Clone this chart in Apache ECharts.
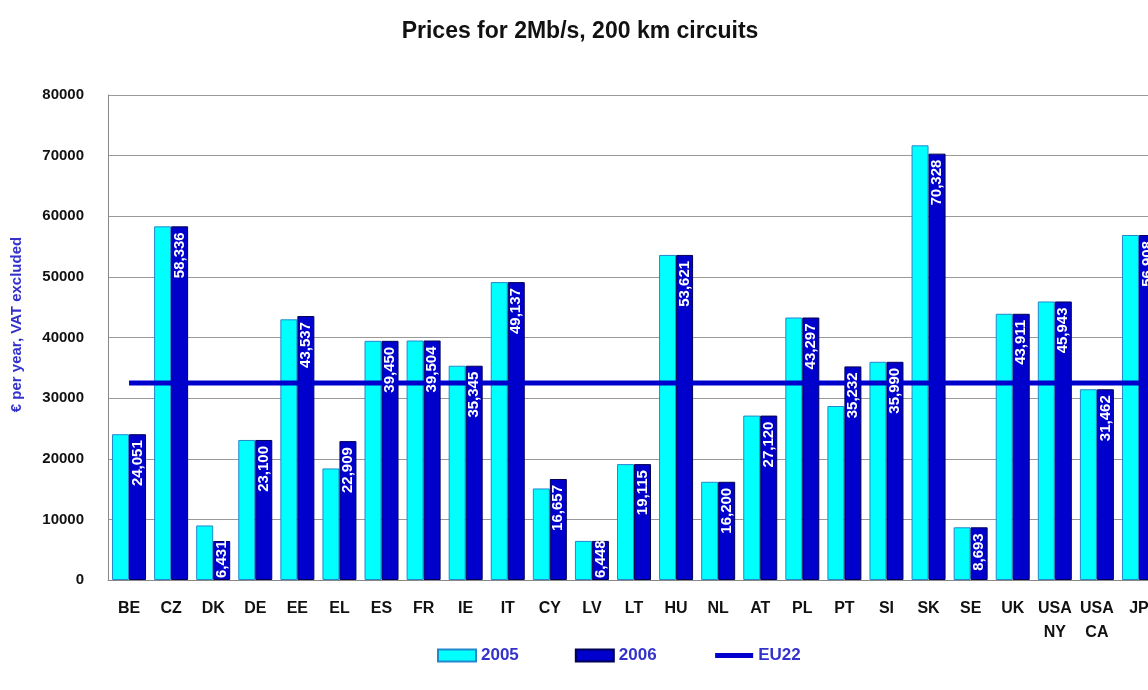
<!DOCTYPE html>
<html>
<head>
<meta charset="utf-8">
<style>
  html, body { margin: 0; padding: 0; background: #fff; overflow: hidden; }
  #chart { width: 1160px; height: 690px; }
</style>
<script src="https://cdn.jsdelivr.net/npm/echarts@6/dist/echarts.min.js"></script>
</head>
<body>
<div id="chart"></div>
<script>
// categories and values
var categories = ['BE', 'CZ', 'DK', 'DE', 'EE', 'EL', 'ES', 'FR', 'IE', 'IT', 'CY', 'LV', 'LT', 'HU',
    'NL', 'AT', 'PL', 'PT', 'SI', 'SK', 'SE', 'UK', 'USA\nNY', 'USA\nCA', 'JP'];
var v2005 = [24051, 58336, 9000, 23100, 43000, 18400, 39450, 39504, 35345, 49137, 15100, 6448, 19115, 53621,
    16200, 27120, 43297, 28700, 35990, 71700, 8693, 43911, 45943, 31462, 56908];
var v2006 = [24051, 58336, 6431, 23100, 43537, 22909, 39450, 39504, 35345, 49137, 16657, 6448, 19115, 53621,
    16200, 27120, 43297, 35232, 35990, 70328, 8693, 43911, 45943, 31462, 56908];
var eu22 = 32500;
var yTicks = { min: 0, max: 80000, interval: 10000 };

var font = 'Liberation Sans, Arial, sans-serif';
var myChart = echarts.init(document.getElementById('chart'));

// labels of 2006 bars: short bars get their label from the bottom
function labelFor(v) {
    if (v < 8000) {
        return { position: 'insideBottom', align: 'left', distance: 2 };
    }
    return {};
}

var catAxis = {
    type: 'category',
    data: categories,
    axisLine: { lineStyle: { color: '#888' } },
    axisTick: { show: false },
    axisLabel: {
        interval: 0,
        margin: 17,
        lineHeight: 24,
        fontFamily: font, fontSize: 16, fontWeight: 'bold', color: '#111'
    }
};

var option = {
    animation: false,
    title: {
        text: 'Prices for 2Mb/s, 200 km circuits',
        left: 'center',
        top: 15,
        textStyle: { fontFamily: font, fontSize: 23, fontWeight: 'bold', color: '#111' }
    },
    legend: {
        left: 437,
        top: 647,
        padding: 0,
        itemGap: 56,
        itemWidth: 38,
        itemHeight: 12,
        textStyle: { fontFamily: font, fontSize: 17, fontWeight: 'bold', color: '#3333cc' },
        data: [
            { name: '2005', icon: 'rect' },
            { name: '2006', icon: 'rect' },
            { name: 'EU22', itemStyle: { opacity: 0 }, lineStyle: { width: 5 } }
        ]
    },
    grid: { left: 108, right: 0, top: 95, bottom: 110 },
    xAxis: [
        catAxis,
        { type: 'category', data: categories, show: false }
    ],
    yAxis: {
        type: 'value',
        min: yTicks.min,
        max: yTicks.max,
        interval: yTicks.interval,
        name: '€ per year, VAT excluded',
        nameLocation: 'middle',
        nameGap: 84,
        nameTextStyle: { fontFamily: font, fontSize: 15, fontWeight: 'bold', color: '#3333cc', padding: [0, 0, 0, 26] },
        axisLine: { show: true, lineStyle: { color: '#888' } },
        axisTick: { show: false },
        splitLine: { lineStyle: { color: '#999', width: 1 } },
        axisLabel: {
            margin: 24, fontFamily: font, fontSize: 15, fontWeight: 'bold', color: '#111',
            formatter: function (v) { return String(v); }
        }
    },
    series: [
        {
            name: '2005',
            type: 'bar',
            barWidth: 17,
            barGap: '0%',
            data: v2005,
            itemStyle: { color: '#00ffff', borderColor: '#2288cc', borderWidth: 1 }
        },
        {
            name: '2006',
            type: 'bar',
            barWidth: 17,
            data: v2006,
            itemStyle: { color: '#0000cc', borderColor: '#000055', borderWidth: 1 }
        },
        {
            name: 'EU22',
            type: 'line',
            data: categories.map(function () { return eu22; }),
            symbol: 'none',
            z: 5,
            lineStyle: { color: '#0000cc', width: 5 },
            itemStyle: { color: '#0000cc' }
        },
        // transparent copies on a hidden axis, only to put the 2006 labels above the EU22 line
        {
            name: 'ghost2005',
            type: 'bar',
            xAxisIndex: 1,
            barWidth: 17,
            barGap: '0%',
            z: 8,
            silent: true,
            data: v2005,
            itemStyle: { color: 'rgba(0,0,0,0)' }
        },
        {
            name: 'label2006',
            type: 'bar',
            xAxisIndex: 1,
            barWidth: 17,
            z: 8,
            silent: true,
            data: v2006.map(function (v) { return { value: v, label: labelFor(v) }; }),
            itemStyle: { color: 'rgba(0,0,0,0)' },
            label: {
                show: true,
                position: 'insideTop',
                rotate: 90,
                align: 'right',
                verticalAlign: 'middle',
                distance: 6,
                fontFamily: font, fontSize: 15, fontWeight: 'bold', color: '#fff',
                formatter: function (p) { return p.value.toLocaleString('en-US'); }
            }
        }
    ]
};

myChart.setOption(option);
</script>
</body>
</html>
